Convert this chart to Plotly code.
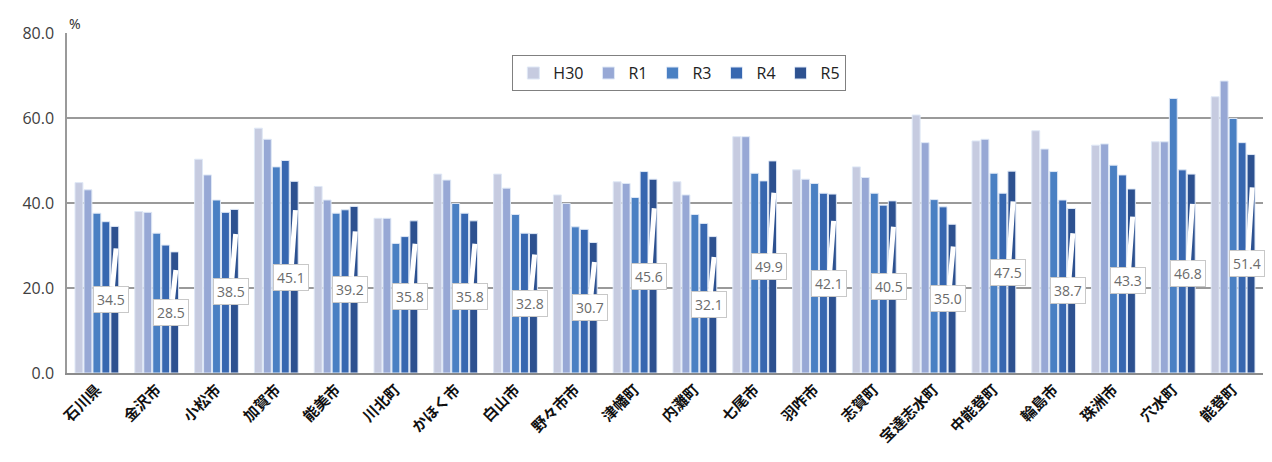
import plotly.graph_objects as go

# 市町別の割合（%）
categories = ["石川県", "金沢市", "小松市", "加賀市", "能美市", "川北町", "かほく市", "白山市",
              "野々市市", "津幡町", "内灘町", "七尾市", "羽咋市", "志賀町", "宝達志水町",
              "中能登町", "輪島市", "珠洲市", "穴水町", "能登町"]

h30 = [44.8, 38.0, 50.3, 57.6, 43.9, 36.4, 46.8, 46.8, 41.9, 45.0,
       45.0, 55.6, 47.8, 48.5, 60.7, 54.6, 57.0, 53.6, 54.4, 65.0]
r1 = [43.1, 37.8, 46.6, 55.0, 40.7, 36.4, 45.4, 43.5, 39.9, 44.6,
      41.9, 55.6, 45.6, 46.0, 54.2, 55.0, 52.7, 53.9, 54.4, 68.7]
r3 = [37.6, 32.9, 40.7, 48.5, 37.6, 30.5, 39.9, 37.3, 34.4, 41.3,
      37.3, 47.0, 44.6, 42.3, 40.8, 47.0, 47.4, 48.9, 64.6, 59.9]
r4 = [35.6, 30.1, 37.8, 50.0, 38.4, 32.1, 37.6, 32.9, 33.8, 47.4,
      35.2, 45.2, 42.3, 39.5, 39.1, 42.3, 40.7, 46.6, 47.8, 54.2]
r5 = [34.5, 28.5, 38.5, 45.1, 39.2, 35.8, 35.8, 32.8, 30.7, 45.6,
      32.1, 49.9, 42.1, 40.5, 35.0, 47.5, 38.7, 43.3, 46.8, 51.4]

series = [("H30", h30, "#c6cbe0"),
          ("R1", r1, "#97a8d5"),
          ("R3", r3, "#4a80c3"),
          ("R4", r4, "#3767b0"),
          ("R5", r5, "#2d5190")]

fig = go.Figure()
for name, vals, color in series:
    fig.add_trace(go.Bar(
        x=categories, y=vals, name=name,
        marker=dict(color=color, line=dict(color="#dfe8f6", width=1)),
    ))

BARGAP = 0.25
n_series = len(series)
slot = (1 - BARGAP) / n_series
r5_offset = -(1 - BARGAP) / 2 + slot * (n_series - 0.5)

# Callout labels for R5: box centred at mid-height of the bar, white leader towards the bar top
annotations = []
for i, v in enumerate(r5):
    xc = i + r5_offset
    annotations.append(dict(
        x=xc + 0.02, y=v * 0.85, xref="x", yref="y",
        ax=xc - 0.06, ay=v / 2, axref="x", ayref="y",
        text=f"{v:.1f}", showarrow=True, arrowhead=0, arrowwidth=5,
        arrowcolor="white", bgcolor="white", bordercolor="#c8c8c8",
        borderwidth=1, borderpad=3,
        font=dict(family="Open Sans, sans-serif", size=14, color="#6b6b6b"),
    ))

annotations.append(dict(
    x=0.0, y=1.0, xref="paper", yref="paper", xanchor="left", yanchor="bottom",
    text="%", showarrow=False, yshift=-2,
    font=dict(family="Noto Sans, sans-serif", size=14, color="#333333"),
))

fig.update_layout(
    width=1272, height=462,
    margin=dict(l=67, r=9, t=33, b=89),
    paper_bgcolor="white", plot_bgcolor="white",
    barmode="group", bargap=BARGAP, bargroupgap=0.12,
    showlegend=True,
    legend=dict(
        orientation="h", x=0.512, xanchor="center", y=0.935, yanchor="top",
        bgcolor="white", bordercolor="#808080", borderwidth=1,
        font=dict(family="Open Sans, sans-serif", size=16, color="#222222"),
        itemwidth=30, traceorder="normal",
    ),
    annotations=annotations,
)

fig.update_xaxes(
    type="category", range=[-0.5, len(categories) - 0.5],
    tickangle=-45, showgrid=False, ticks="",
    showline=True, linecolor="#8c8c8c", linewidth=2,
    tickfont=dict(family="Noto Sans CJK JP", size=15, color="#111111", weight="bold"),
)
fig.update_yaxes(
    range=[0, 80], dtick=20, tickformat=".1f",
    showgrid=True, gridcolor="#9a9a9a", gridwidth=1.5,
    showline=True, linecolor="#9a9a9a", linewidth=1.5,
    zeroline=False, ticks="", ticklabelstandoff=8,
    tickfont=dict(family="Open Sans, sans-serif", size=16, color="#404040"),
)

fig.write_html("out.html")
